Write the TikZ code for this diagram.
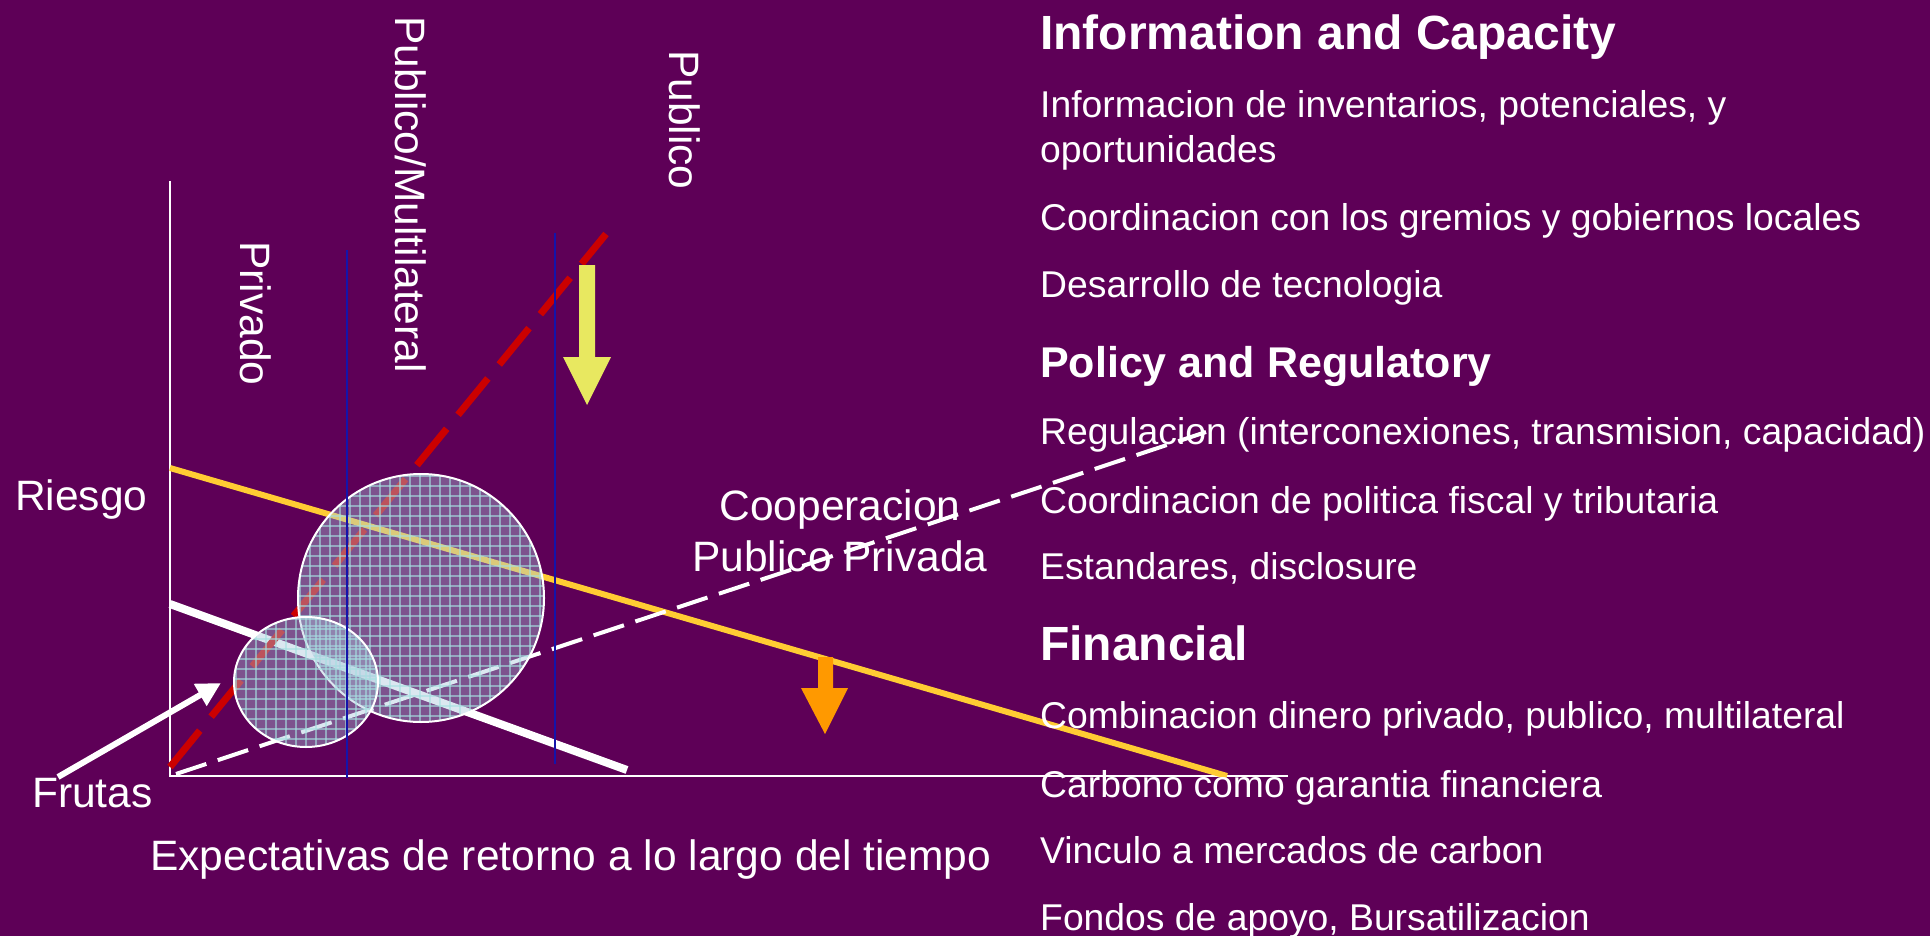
\documentclass[tikz,border=0pt]{standalone}
\usepackage{fontspec}
\setmainfont{Liberation Sans}
\usetikzlibrary{arrows.meta}
\definecolor{bgpurple}{RGB}{94,0,87}
\definecolor{goldline}{RGB}{255,204,51}
\definecolor{reddash}{RGB}{204,0,0}
\definecolor{bluev}{RGB}{20,20,170}
\definecolor{yelarrow}{RGB}{232,232,96}
\definecolor{orarrow}{RGB}{255,153,0}
\definecolor{circfill}{RGB}{170,200,220}
\definecolor{gridc}{RGB}{165,225,225}
\begin{document}
\begin{tikzpicture}[x=1pt,y=-1pt,
  lbl/.style={text=white, font=\fontsize{42.5}{50}\selectfont, inner sep=0pt},
  item/.style={text=white, font=\fontsize{37.3}{44}\selectfont, inner sep=0pt, anchor=base west},
  head/.style={text=white, font=\bfseries\fontsize{48}{56}\selectfont, inner sep=0pt, anchor=base west},
  axisline/.style={white, line width=2pt},
  vline/.style={bluev, line width=2pt},
  gridl/.style={gridc, line width=1.2pt, opacity=0.6},
  blobfill/.style={fill=circfill, fill opacity=0.42},
  blobedge/.style={white, line width=2pt},
]
\fill[bgpurple] (0,0) rectangle (1930,936);
\useasboundingbox (0,0) rectangle (1930,936);

% coordinates
\coordinate (O) at (170,776);
\coordinate (Ytop) at (170,181);
\coordinate (Xend) at (1288,776);
\coordinate (g1) at (170,468);
\coordinate (g2) at (1227,776);
\coordinate (w1) at (170,604);
\coordinate (w2) at (627,770);
\coordinate (r1) at (170,767);
\coordinate (r2) at (606,234);
\coordinate (d1) at (176,774);
\coordinate (d2) at (1206,432);
\coordinate (b1a) at (347,250);
\coordinate (b1b) at (347,778);
\coordinate (b2a) at (555,233);
\coordinate (b2b) at (555,764);
\coordinate (fa) at (58,777);
\coordinate (fb) at (221,683);

% axes
\draw[axisline] (Ytop) -- (O) -- (Xend);

% lines behind the blobs
\draw[goldline, line width=6pt] (g1) -- (g2);
\draw[white, line width=8pt] (w1) -- (w2);
\draw[reddash, line width=7pt, dash pattern=on 47pt off 18pt] (r1) -- (r2);
\draw[white, line width=4pt, dash pattern=on 32pt off 12pt] (d1) -- (d2);

% big blob
\begin{scope}
  \clip (421,598) ellipse [x radius=123, y radius=124];
  \fill[blobfill] (296,472) rectangle (546,724);
  \foreach \gx in {300,310,...,546} \draw[gridl] (\gx,470) -- (\gx,726);
  \foreach \gy in {476,486,...,724} \draw[gridl] (296,\gy) -- (546,\gy);
\end{scope}
\draw[blobedge] (421,598) ellipse [x radius=123, y radius=124];

% small blob
\begin{scope}
  \clip (306,682) ellipse [x radius=72, y radius=65];
  \fill[blobfill] (232,615) rectangle (380,749);
  \foreach \gx in {236,246,...,380} \draw[gridl] (\gx,613) -- (\gx,750);
  \foreach \gy in {619,629,...,749} \draw[gridl] (232,\gy) -- (380,\gy);
\end{scope}
\draw[blobedge] (306,682) ellipse [x radius=72, y radius=65];

% blue verticals
\draw[vline] (b1a) -- (b1b);
\draw[vline] (b2a) -- (b2b);

% block arrows
\fill[yelarrow] (579,265) -- (595,265) -- (595,357) -- (611,357) -- (587,405) -- (563,357) -- (579,357) -- cycle;
\fill[orarrow] (818,657) -- (833,657) -- (833,688) -- (848,688) -- (825,734) -- (801,688) -- (818,688) -- cycle;

% Frutas arrow
\draw[white, line width=6pt, -{Triangle[length=24pt,width=24pt]}] (fa) -- (fb);

% labels
\node[lbl, anchor=base west] (riesgo) at (15,510) {Riesgo};
\node[lbl, anchor=base west] (frutas) at (32,807) {Frutas};
\node[lbl, anchor=base west] (expect) at (150,870) {Expectativas de retorno a lo largo del tiempo};
\node[lbl, anchor=base west, rotate=-90] (privado) at (240,241) {Privado};
\node[lbl, anchor=base west, rotate=-90] (pubmul) at (395,16) {Publico/Multilateral};
\node[lbl, anchor=base west, rotate=-90] (publico) at (669,50) {Publico};
\node[lbl, anchor=base] (coop) at (840,520) {Cooperacion};
\node[lbl, anchor=base] (ppriv) at (840,571) {Publico Privada};

% right column
\node[head] (h1) at (1040,50) {Information and Capacity};
\node[item] (i1) at (1040,118) {Informacion de inventarios, potenciales, y};
\node[item] (i1b) at (1040,163) {oportunidades};
\node[item] (i2) at (1040,230) {Coordinacion con los gremios y gobiernos locales};
\node[item] (i3) at (1040,297) {Desarrollo de tecnologia};
\node[head, font=\bfseries\fontsize{43}{52}\selectfont] (h2) at (1040,377) {Policy and Regulatory};
\node[item] (i4) at (1040,444) {Regulacion (interconexiones, transmision, capacidad)};
\node[item] (i5) at (1040,513) {Coordinacion de politica fiscal y tributaria};
\node[item] (i6) at (1040,579) {Estandares, disclosure};
\node[head] (h3) at (1040,660) {Financial};
\node[item] (i7) at (1040,728) {Combinacion dinero privado, publico, multilateral};
\node[item] (i8) at (1040,797) {Carbono como garantia financiera};
\node[item] (i9) at (1040,863) {Vinculo a mercados de carbon};
\node[item] (i10) at (1040,930) {Fondos de apoyo, Bursatilizacion};
\end{tikzpicture}
\end{document}
